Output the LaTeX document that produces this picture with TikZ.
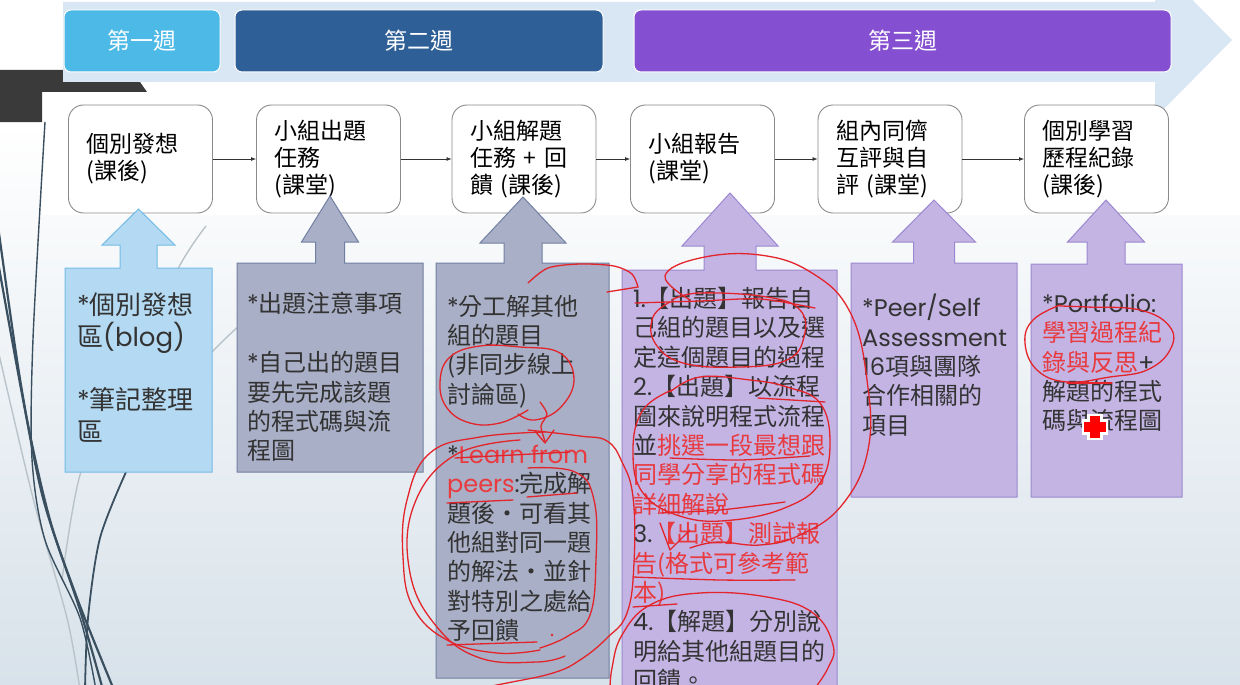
\documentclass[tikz,border=0pt]{standalone}
\usepackage{fontspec}
\setmainfont{Noto Sans CJK TC}
\newfontfamily\latf{Poppins}
\usetikzlibrary{arrows.meta}

\definecolor{bandc}{HTML}{D9E7F4}
\definecolor{wkone}{HTML}{4CB9E7}
\definecolor{wktwo}{HTML}{2F5F97}
\definecolor{wkthree}{HTML}{844FD0}
\definecolor{stepline}{HTML}{8A8A8A}
\definecolor{bluefill}{HTML}{B4DAF3}
\definecolor{blueline}{HTML}{74BAE6}
\definecolor{slatefill}{HTML}{A9AFC6}
\definecolor{slateline}{HTML}{7180A2}
\definecolor{violetfill}{HTML}{C3B4E4}
\definecolor{violetline}{HTML}{9C88D0}
\definecolor{bodytxt}{HTML}{333333}
\definecolor{inkred}{HTML}{E3242B}
\definecolor{redtxt}{HTML}{E83A3F}
\definecolor{bgbottom}{HTML}{D8E2EA}
\definecolor{swoosh}{HTML}{3A4F5F}
\definecolor{swooshlight}{HTML}{B9C3CA}
\definecolor{darkblk}{HTML}{3A3A3A}

\newcommand{\lw}[1]{{\latf #1}}
\newcommand{\rd}[1]{\textcolor{redtxt}{#1}}
% up-pointing callout: L, T, R, B, axis x, shaft half width, head half width, head base y, tip y
\newcommand{\upcallout}[9]{(#1,#2) -- ({#5-#6},#2) -- ({#5-#6},#8) -- ({#5-#7},#8) -- (#5,#9)
  -- ({#5+#7},#8) -- ({#5+#6},#8) -- ({#5+#6},#2) -- (#3,#2) -- (#3,#4) -- (#1,#4) -- cycle}

\begin{document}
\begin{tikzpicture}[x=1pt,y=-1pt,
  weekbox/.style={rounded corners=7pt, draw=white, line width=1pt, text=white,
    minimum height=62pt, font=\fontsize{23}{27}\selectfont},
  stepbox/.style={draw=stepline, line width=0.9pt, fill=white, rounded corners=15pt,
    minimum width=144pt, minimum height=108pt, text width=108pt, inner xsep=18pt,
    align=left, text=black, font=\fontsize{23}{27}\selectfont},
  conn/.style={draw=black!80, line width=0.7pt, -{Latex[length=5pt,width=4pt]}},
  callblue/.style={fill=bluefill, draw=blueline, line width=1pt},
  callslate/.style={fill=slatefill, draw=slateline, line width=1pt},
  callviolet/.style={fill=violetfill, draw=violetline, line width=1pt},
  calltext/.style={anchor=north west, inner sep=0pt, align=left, text=bodytxt,
    font=\fontsize{24}{29.3}\selectfont},
  ink/.style={draw=inkred, line width=1.3pt, line cap=round, line join=round},
  swthick/.style={draw=swoosh, line width=2.2pt},
  swthin/.style={draw=swoosh, line width=1.4pt},
  swpale/.style={draw=swooshlight, line width=1.4pt}]
\useasboundingbox (0,0) rectangle (1240,685);
\clip (0,0) rectangle (1240,685);

% slide background
\fill[white] (0,0) rectangle (1240,685);
\shade[top color=white, bottom color=bgbottom] (0,122) rectangle (1240,685);
\fill[white] (42,92) rectangle (1240,215);

% decorative swooshes on the left edge
\draw[swpale] plot[smooth] coordinates {(-2,350) (33,498) (67,618) (80,690)};
\draw[swpale] plot[smooth] coordinates {(62,580) (80,475) (120,380) (180,265) (206,226)};
\draw[swpale] plot[smooth] coordinates {(126,472) (170,400) (213,351) (240,325)};
\draw[swthick] plot[smooth] coordinates {(-2,226) (20,379) (43,498) (77,598) (114,690)};
\draw[swthick] plot[smooth] coordinates {(-2,262) (27,420) (50,520) (80,610) (103,690)};
\draw[swthin] plot[smooth] coordinates {(45,122) (33,339) (32,459) (45,540) (80,618) (96,690)};
\draw[swthin, line width=1.8pt] plot[smooth] coordinates {(126,472) (100,538) (88,618) (85,690)};

% dark corner block
\fill[darkblk] (0,70) -- (65,70) -- (65,82) -- (140,82) -- (147,92) -- (42,92) -- (42,122) -- (0,122) -- cycle;

% timeline band with arrow head
\fill[bandc] (63,2) -- (1155,2) -- (1155,-38) -- (1232,40) -- (1155,118) -- (1155,82) -- (63,82) -- cycle;

% weeks
\node[weekbox, fill=wkone, minimum width=156pt] (w1) at (142,41) {第一週};
\node[weekbox, fill=wktwo, minimum width=368pt] (w2) at (419,41) {第二週};
\node[weekbox, fill=wkthree, minimum width=537pt] (w3) at (902.5,41) {第三週};

% activity steps
\node[stepbox] (s1) at (140.5,159) {個別發想\\(課後)};
\node[stepbox] (s2) at (328.5,159) {小組出題\\任務\\(課堂)};
\node[stepbox] (s3) at (524,159) {小組解題\\任務 + 回\\饋 (課後)};
\node[stepbox] (s4) at (702.5,159) {小組報告\\(課堂)};
\node[stepbox] (s5) at (890,159) {組內同儕\\互評與自\\評 (課堂)};
\node[stepbox] (s6) at (1096.5,159) {個別學習\\歷程紀錄\\(課後)};
\draw[conn] (s1) -- (s2);
\draw[conn] (s2) -- (s3);
\draw[conn] (s3) -- (s4);
\draw[conn] (s4) -- (s5);
\draw[conn] (s5) -- (s6);

% callouts pointing up at the steps
\path[callblue] \upcallout{65}{268}{212}{472}{138.5}{18.5}{36.5}{245}{209};
\path[callslate] \upcallout{237}{263}{423}{472}{330}{14.5}{28.5}{242}{196};
\path[callslate] \upcallout{436}{263}{609}{678}{523}{19}{43}{243}{197};
\path[callviolet] \upcallout{622}{270}{837}{700}{730}{26}{48}{246}{193};
\path[callviolet] \upcallout{851}{263}{1017}{497}{934}{20.5}{41.5}{242}{200};
\path[callviolet] \upcallout{1031}{264}{1182}{497}{1106}{19}{38.5}{242}{200};

% callout texts
\node[calltext, font=\fontsize{26}{32}\selectfont] (t1) at (77,293)
  {\lw{*}個別發想\\區\lw{(blog)}\\[31pt]\lw{*}筆記整理\\區};
\node[calltext] (t2) at (247,292)
  {\lw{*}出題注意事項\\[30pt]\lw{*}自己出的題目\\要先完成該題\\的程式碼與流\\程圖};
\node[calltext] (t3) at (447,295)
  {\lw{*}分工解其他\\組的題目\\(非同步線上\\討論區)\\[31pt]%
   \lw{*\rd{Learn from}}\\\lw{\rd{peers}:}完成解\\題後・可看其\\他組對同一題\\的解法・並針\\對特別之處給\\予回饋};
\node[calltext, font=\fontsize{24}{29.4}\selectfont] (t4) at (633,287)
  {\lw{1.}【出題】報告自\\己組的題目以及選\\定這個題目的過程\\\lw{2.}【出題】以流程\\圖來說明程式流程\\%
   並\rd{挑選一段最想跟}\\\rd{同學分享的程式碼}\\\rd{詳細解說}\\\lw{3.}\rd{【出題】測試報}\\\rd{告(格式可參考範}\\\rd{本)}\\%
   \lw{4.}【解題】分別說\\明給其他組題目的\\回饋。};
\node[calltext] (t5) at (862,294)
  {\lw{*Peer/Self}\\\lw{Assessment}\\\lw{16}項與團隊\\合作相關的\\項目};
\node[calltext] (t6) at (1042,294)
  {\lw{*Portfolio:}\\\rd{學習過程紀}\\\rd{錄與反思}\lw{+}\\解題的程式\\碼與流程圖};

% hand-drawn red marks
\begin{scope}[ink]
  % arrow over to the report box
  \draw plot[smooth] coordinates {(528,283) (548,268) (580,264) (614,266) (632,274) (638,287)};
  \draw (607,292) -- (638,287);
  % ring round the forum note and the small arrow below it
  \draw plot[smooth, tension=0.7] coordinates {(528,410) (500,423) (470,423) (447,408) (440,382) (450,357) (480,346) (520,347) (560,353) (574,380) (560,408) (535,420) (518,414)};
  \draw plot[smooth] coordinates {(540,402) (547,414) (541,426) (545,441)};
  \draw (535,431) -- (545,443) -- (554,430);
  % rings round the peer feedback paragraph
  \draw plot[smooth, tension=0.7] coordinates {(545,432) (480,437) (430,453) (407,500) (403,557) (413,607) (447,640) (497,653) (540,650)};
  \draw plot[smooth, tension=0.7] coordinates {(520,440) (455,455) (414,505) (410,573) (437,627) (480,658) (537,662) (565,656)};
  \draw plot[smooth, tension=0.7] coordinates {(528,468) (575,472) (594,500) (596,560) (590,615) (568,636) (540,648)};
  \draw plot[smooth, tension=0.7] coordinates {(528,430) (580,436) (607,441) (622,462) (633,497) (634,563) (627,613) (607,638) (580,660) (553,673) (507,683) (470,690)};
  \draw (455,458) -- (570,452);
  \draw (447,503) -- (513,500);
  \draw (527,497) -- (577,493);
  \draw (447,645) -- (537,642);
  \fill[inkred] (552,635) circle (1.3pt);
  % rings and underlines in the report steps
  \draw plot[smooth, tension=0.7] coordinates {(672,300) (700,293) (767,297) (800,310) (804,337) (787,360) (740,367) (683,363) (655,343) (653,317) (670,302)};
  \draw plot[smooth] coordinates {(635,303) (700,301) (760,299) (815,308)};
  \draw plot[smooth, tension=0.7] coordinates {(690,300) (665,276) (700,258) (760,255) (812,273) (850,312) (867,380) (868,450) (842,505) (800,535) (760,545) (718,542) (690,548)};
  \draw plot[smooth, tension=0.7] coordinates {(670,392) (700,377) (750,380) (787,387) (820,403) (830,443) (820,483) (787,507) (733,520) (683,517) (643,493) (633,450) (643,410) (672,390)};
  \draw (758,398) -- (825,402);
  \draw plot[smooth] coordinates {(670,458) (740,460) (810,456)};
  \draw plot[smooth] coordinates {(660,513) (720,510) (785,502)};
  \draw (660,523) -- (670,550) -- (690,530);
  \draw plot[smooth] coordinates {(633,577) (720,580) (795,580)};
  \draw (633,607) -- (677,604);
  \draw plot[smooth, tension=0.7] coordinates {(812,692) (828,668) (833,645) (813,613) (767,597) (700,593) (650,605) (622,635) (612,668) (610,692)};
  % ring round the portfolio note
  \draw plot[smooth, tension=0.7] coordinates {(1060,306) (1087,307) (1140,310) (1170,327) (1170,350) (1147,370) (1110,377) (1067,382) (1037,370) (1025,343) (1033,320) (1060,305)};
  \draw (1067,383) -- (1112,383);
\end{scope}

% pointer marker
\fill[white] (1087,414) rectangle (1103,440);
\fill[white] (1082,419) rectangle (1108,435);
\fill[red] (1090,416) rectangle (1100,438);
\fill[red] (1084,422) rectangle (1106,432);
\end{tikzpicture}
\end{document}
